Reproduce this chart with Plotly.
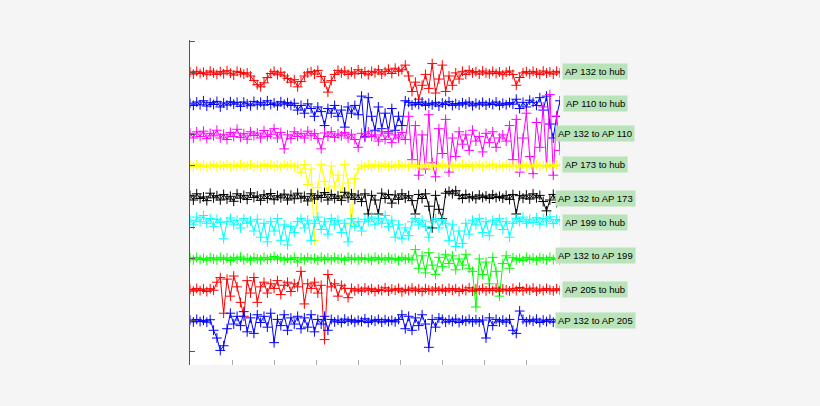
import numpy as np
import plotly.graph_objects as go

# ---------------- data ----------------
labels = ["AP 132 to hub", "AP 110 to hub", "AP 132 to AP 110", "AP 173 to hub",
          "AP 132 to AP 173", "AP 199 to hub", "AP 132 to AP 199", "AP 205 to hub",
          "AP 132 to AP 205"]
colors = ["#ff0000", "#0000ff", "#ff00ff", "#ffff00", "#000000", "#00ffff",
          "#00ff00", "#ff0000", "#0000ff"]

ap132_hub = [9.03, 8.96, 9.05, 8.98, 9.02, 8.94, 9.06, 9.0, 8.95, 9.04, 8.97, 9.07, 8.99, 8.93, 9.05, 9.01, 8.96,
             9.0, 8.9, 8.75, 8.62, 8.55, 8.68, 8.85,
             8.98, 9.05, 8.94, 9.02, 8.9, 8.82, 8.7, 8.78,
             8.55, 8.72, 8.9, 9.0,
             9.04, 8.96, 9.08, 8.88, 8.7,
             8.38, 8.75, 8.95, 9.08,
             9.0, 9.06, 8.95, 9.03, 8.97, 9.1, 8.98, 9.04, 8.94,
             9.05, 9.0, 9.1, 8.96, 9.04, 9.12, 8.98, 9.15, 9.05, 9.1,
             9.25, 8.9, 8.4, 8.7, 8.15, 8.6, 8.95, 8.5, 9.3, 8.35, 8.8, 9.25, 8.4, 8.9, 8.6, 9.0, 8.8,
             9.05, 8.95, 9.08, 9.0, 9.04, 8.96, 9.06, 9.0, 8.97, 9.05, 8.98, 9.03, 8.94, 9.02, 9.06, 8.95,
             8.6, 8.85, 9.0,
             9.04, 8.97, 9.05, 9.0, 8.95, 9.06, 8.99, 9.03, 8.96, 9.05, 9.0]

ap110_hub = [8.02, 7.95, 8.06, 7.97, 8.1, 7.93, 8.04, 7.98, 8.08, 7.9,
             8.03, 7.96, 8.07, 7.99, 8.05, 7.92, 8.06, 8.0, 7.94, 8.08, 7.97,
             8.05, 7.96, 8.1, 7.98, 8.03, 7.94, 8.07, 7.99, 8.04, 7.95, 8.02, 7.8,
             7.95, 7.7, 8.0, 7.85, 7.6, 7.9, 7.75, 7.3,
             7.85, 7.7, 7.95, 7.6, 7.8, 7.25, 7.9, 7.7,
             7.95, 7.65, 8.25, 6.95, 8.2,
             7.6, 7.15, 7.9, 7.2, 7.7, 7.1, 7.85, 7.15, 7.6, 7.3,
             8.1, 8.05, 7.96, 8.04, 7.98, 8.06, 7.95, 8.02, 7.97, 8.05, 7.93, 8.03, 7.98, 8.07, 7.95, 8.01,
             7.96, 8.04, 7.99, 8.06, 7.94, 8.02, 7.97, 8.05, 7.96, 8.03, 7.98, 8.06, 7.95, 8.02, 7.97, 8.04, 7.99,
             8.15, 7.85, 8.05, 7.9, 8.12, 8.05, 7.95, 8.2, 7.8, 8.25, 7.35, 6.9, 7.6, 8.1]

ap132_ap110 = [7.05, 6.9, 7.1, 6.95, 7.12, 6.88, 7.05, 6.97, 7.15, 6.9,
               7.02, 6.85, 7.08, 6.95, 7.18, 6.92, 7.04, 6.86, 7.1, 6.98,
               7.06, 6.9, 7.14, 6.95, 7.02, 7.2,
               6.9, 7.08, 6.55, 7.0, 6.88, 7.1, 6.95, 7.05,
               6.9, 7.12, 6.97, 7.04, 6.88, 6.55, 7.06, 6.95, 7.1, 6.92, 7.03, 6.97,
               7.08, 6.9, 7.02, 6.85, 6.6, 7.05, 6.92, 7.1, 6.95,
               7.0, 6.8, 7.1, 6.85, 7.05, 6.75, 7.0, 6.9, 7.08, 6.85,
               7.6, 6.2, 7.3, 5.7, 7.0, 5.9, 7.65, 6.1, 5.65, 7.2, 6.4, 7.5, 5.8, 6.9, 6.3,
               7.1, 6.7, 7.0, 6.5, 7.15, 6.8, 6.95, 6.45, 7.05, 6.75, 7.1, 6.6, 6.9, 7.0, 6.8,
               7.3, 6.2, 7.5, 5.8, 6.9, 7.7, 6.3, 5.75, 7.4, 6.6, 7.9, 6.0, 8.3, 5.7, 7.6, 6.5]

ap173_hub = [6.02, 5.97, 6.04, 5.98, 6.03, 5.96, 6.01, 6.05, 5.97, 6.02, 5.99, 6.04, 5.96, 6.03, 5.98, 6.05,
             5.97, 6.01, 6.04, 5.96, 6.02, 5.99, 6.05, 5.97, 6.03, 5.98, 6.02, 5.96, 6.04, 5.99, 6.03, 5.97, 6.02,
             5.8, 6.05, 5.4, 5.9, 3.6, 5.3, 6.05, 5.5, 5.1, 6.0, 5.35, 5.7, 5.0, 6.05, 5.45, 4.1, 5.6, 5.9, 6.02,
             5.98, 6.03, 5.96, 6.04, 6.0, 5.97, 6.05, 5.98, 6.02, 5.96,
             6.04, 5.99, 6.03, 5.97, 6.05, 5.98, 6.01, 5.96, 6.04, 6.0,
             5.97, 6.03, 5.98, 6.05, 5.96, 6.02, 5.99, 6.04, 5.97, 6.03,
             5.98, 6.05, 5.96, 6.01, 6.04, 5.97, 6.02, 5.99, 6.05, 5.96,
             6.03, 5.98, 6.04, 5.97, 6.02, 6.0, 5.96, 6.05, 5.98, 6.03,
             5.97, 6.04, 5.99, 6.02, 5.96, 6.05, 5.98, 6.03, 6.0]

ap132_ap173 = [5.05, 4.9, 5.1, 4.95, 5.0, 4.88, 5.12, 4.97, 5.04, 4.9,
               5.08, 4.93, 5.02, 4.86, 5.1, 4.96, 5.05, 4.92, 5.13, 4.98,
               5.03, 4.89, 5.07, 4.95, 5.11, 4.91, 5.04, 4.97, 5.09, 4.9,
               5.06, 4.94, 5.12, 4.96, 5.02, 4.87, 5.1, 4.93, 5.05, 4.98,
               5.14, 4.9, 5.08, 4.95, 5.03, 4.89, 5.15, 4.97, 5.1, 4.92, 5.06,
               4.85, 5.1, 4.45, 5.05, 4.9, 4.45, 5.12, 4.95, 5.08, 4.8,
               5.06, 4.92, 5.1, 4.96, 5.04, 4.88, 4.45, 5.08, 4.95, 5.1,
               4.7, 4.0, 5.05, 4.6, 4.3, 5.12, 5.18, 5.1, 5.2,
               5.05, 4.95, 5.08, 4.97, 5.02, 4.94, 5.06, 4.98, 5.03, 4.95,
               5.07, 4.98, 5.02, 4.96, 5.05, 4.92, 5.08, 4.45, 5.04, 4.96,
               5.06, 4.93, 5.1, 4.97, 5.05, 4.85, 4.55, 4.9, 5.08, 4.82, 5.0]

ap199_hub = [4.25, 4.1, 4.35, 4.2, 4.4, 4.15, 4.3, 4.05, 4.28, 4.18, 3.65,
             4.2, 4.32, 4.1, 4.25, 4.0, 4.3, 4.15, 4.22, 3.9, 4.28,
             3.7, 4.15, 3.55, 4.2, 3.9, 4.3, 3.6, 4.1, 3.45, 4.05, 3.85, 4.2,
             4.3, 4.0, 4.25, 3.6, 4.15, 4.35, 3.95, 4.2, 3.8, 4.3,
             4.1, 4.25, 3.85, 4.15, 3.55, 4.3, 4.05, 4.2, 3.9, 4.28,
             4.2, 4.35, 4.1, 4.3, 4.15, 4.4, 4.05, 4.25, 3.7, 4.1, 3.65, 4.0,
             3.75, 4.2, 4.3, 4.1, 4.25, 4.05, 3.7, 4.2, 4.3, 4.0, 4.25, 4.15,
             3.6, 4.1, 3.4, 3.9, 3.5, 4.15, 3.8, 4.25, 4.1,
             4.3, 3.85, 4.2, 3.75, 4.25, 4.1, 4.3, 3.95, 4.2, 3.7, 4.15,
             4.3, 4.2, 4.35, 4.15, 4.28, 4.18, 4.33, 4.12, 4.3, 4.2, 4.36, 4.14, 4.27, 4.22]

ap132_ap199 = [3.03, 2.97, 3.05, 2.98, 3.02, 2.96, 3.04, 3.0, 2.97, 3.05,
               2.98, 3.03, 2.95, 3.04, 2.99, 3.06, 2.97, 3.02, 2.96, 3.04,
               3.0, 2.97, 3.05, 2.98, 3.03, 3.08, 2.99, 3.04, 2.96, 3.02,
               2.98, 3.05, 2.9, 3.03, 2.97, 3.04, 2.99, 3.02, 2.96, 3.05,
               2.98, 3.03, 2.97, 3.04, 2.99, 3.02, 2.96, 3.05, 2.98, 3.03,
               2.97, 3.04, 2.99, 3.02, 2.96, 3.05, 2.98, 3.03, 2.97, 3.04,
               2.99, 3.02, 2.96, 3.05, 2.98, 3.03, 2.97,
               3.3, 2.7, 3.1, 2.55, 3.2, 2.8, 2.5, 3.05, 2.75, 3.15,
               2.85, 3.1, 2.65, 3.0, 2.8, 3.15, 2.7, 2.6, 1.45, 3.0,
               2.5, 2.9, 2.2, 3.05, 2.6, 1.8, 2.85, 3.1, 2.7,
               3.04, 2.97, 3.02, 2.95, 3.05, 2.98, 3.03, 2.96, 3.04, 3.0, 2.97, 3.05, 2.98, 3.02, 2.96]

ap205_hub = [2.02, 1.96, 2.05, 1.98, 2.03, 1.95, 2.04, 1.99,
             2.25, 2.4, 1.25, 2.35, 1.8, 2.45, 2.1, 1.6, 1.15, 2.3, 1.9, 2.4, 1.6,
             2.1, 2.25, 1.9, 2.2, 2.05, 2.3, 1.85, 2.15, 2.25, 1.95, 2.2, 2.1, 2.6,
             1.55, 2.2, 2.05, 2.25, 1.9, 2.15, 0.4, 2.5, 2.1, 2.2, 1.8, 2.15, 2.05, 1.75,
             2.05, 1.97, 2.03, 1.96, 2.06, 1.99, 2.04, 1.95, 2.02, 1.98,
             2.07, 1.96, 2.03, 1.99, 2.05, 1.94, 2.02, 1.98, 2.06, 1.97,
             2.03, 1.95, 2.04, 2.0, 1.97, 2.06, 1.98, 2.03, 1.96, 2.05,
             1.99, 2.04, 1.95, 2.02, 1.98, 2.07, 1.96, 2.03, 1.99, 2.05,
             1.97, 2.04, 1.98, 2.06, 1.96, 2.03, 2.0, 1.97, 2.05, 1.98,
             2.08, 1.97, 2.04, 1.99, 2.06, 1.96, 2.03, 1.98, 2.05, 2.0,
             1.97, 2.04, 1.99]

ap132_ap205 = [1.03, 0.97, 1.05, 0.98, 1.02, 0.96, 1.04,
               0.7, 0.45, 0.05, 0.2, 0.75,
               1.25, 0.9, 1.15, 0.85, 1.3, 0.65, 1.1, 0.6, 1.2, 0.95, 1.15, 0.8, 1.25, 0.3, 1.05, 0.85, 1.2, 0.7,
               1.1, 0.9, 1.15,
               0.75, 1.1, 0.8, 1.2, 0.65, 1.05, 0.9, 1.15, 0.7,
               1.05, 0.97, 1.03, 0.95, 1.06, 0.99, 1.04, 0.96, 1.02, 0.98, 1.07, 0.95, 1.03, 0.99, 1.05,
               0.96, 1.04, 0.98, 1.02, 0.97, 1.05,
               1.2, 0.75, 1.15, 0.7, 1.1, 0.85, 1.2, 0.9, 0.15, 1.05, 0.8, 1.1, 1.05,
               0.96, 1.04, 0.98, 1.06, 0.95, 1.03, 0.99, 1.05, 0.97, 1.04,
               0.97, 1.03, 0.45, 1.1, 0.85, 1.05, 0.97, 1.03, 0.96, 1.05,
               0.7, 0.6, 1.32, 1.05, 0.97, 1.04, 0.99, 1.06, 0.95, 1.03,
               0.98, 1.05, 0.96, 1.04, 1.0]

series = [ap132_hub, ap110_hub, ap132_ap110, ap173_hub, ap132_ap173,
          ap199_hub, ap132_ap199, ap205_hub, ap132_ap205]
label_levels = [9.03, 8.0, 7.03, 6.03, 4.94, 4.16, 3.1, 2.0, 1.03]

x_max = 8.8

# ---------------- figure ----------------
fig = go.Figure()
for name, ys, col in zip(labels, series, colors):
    xs = np.linspace(0, x_max, len(ys))
    fig.add_trace(go.Scatter(
        x=xs, y=ys, mode="lines+markers", name=name,
        line=dict(color=col, width=1),
        marker=dict(symbol="cross-thin-open", size=7, line=dict(color=col, width=1), color=col),
        showlegend=False, hoverinfo="skip"))

for name, lvl in zip(labels, label_levels):
    fig.add_annotation(
        x=1.095, xref="paper", y=lvl, yref="y", text=name, showarrow=False,
        xanchor="center", yanchor="middle",
        font=dict(family="Liberation Sans Narrow, Arial Narrow, Liberation Sans, sans-serif",
                  size=9.5, color="#000000"),
        bgcolor="#b9e4b9", borderpad=2)

fig.update_layout(
    width=820, height=406,
    margin=dict(l=190, r=260, t=40, b=41),
    paper_bgcolor="#f5f5f5", plot_bgcolor="#ffffff",
    xaxis=dict(range=[0, x_max], showgrid=False, zeroline=False, showline=False,
               ticks="inside", ticklen=5, tickcolor="#aaaaaa", tickwidth=1,
               tickmode="array", tickvals=list(range(0, 9)), showticklabels=False),
    yaxis=dict(range=[-0.42, 10.06], showgrid=False, zeroline=False,
               showline=True, linecolor="#555555", linewidth=1,
               ticks="inside", ticklen=5, tickcolor="#555555", tickwidth=1,
               tickmode="array", tickvals=list(range(0, 11)), showticklabels=False),
)

fig.write_html("out.html", config={"displayModeBar": False},
               post_script="document.body.style.margin='0';document.body.style.padding='0';"
                           "document.body.style.background='#f5f5f5';")
